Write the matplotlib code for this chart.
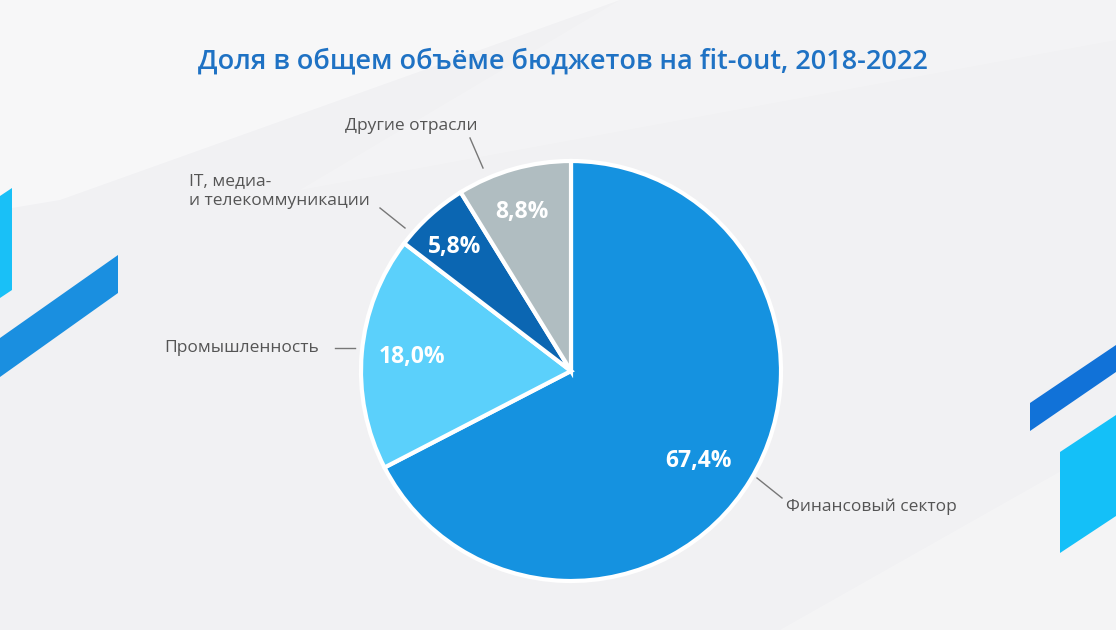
import matplotlib
matplotlib.use("Agg")
import matplotlib.pyplot as plt
from matplotlib.patches import Polygon

# ---- data ----
categories = ["Финансовый сектор", "Промышленность", "IT, медиа-\nи телекоммуникации", "Другие отрасли"]
values = [67.4, 18.0, 5.8, 8.8]
pct_labels = ["67,4%", "18,0%", "5,8%", "8,8%"]
colors = ["#1592e0", "#5bd0fb", "#0b66b2", "#b0bdc1"]
title = "Доля в общем объёме бюджетов на fit-out, 2018-2022"

W, H = 1116, 630
fig = plt.figure(figsize=(W / 100, H / 100), dpi=100)
fig.patch.set_facecolor("#f1f1f3")
ax = fig.add_axes([0, 0, 1, 1])
ax.set_facecolor("#f1f1f3")

def P(x, y):
    return (x, H - y)

# soft background light bands
for pts, c, a in [
    ([(0, 0), (620, 0), (60, 200), (0, 210)], "#f9f9fa", 0.8),
    ([(620, 0), (1116, 0), (1116, 40), (300, 190)], "#f5f5f6", 0.7),
    ([(780, 630), (1116, 440), (1116, 630)], "#f6f6f7", 0.7),
]:
    ax.add_patch(Polygon([P(*p) for p in pts], closed=True, fc=c, ec="none", alpha=a, zorder=0))

# decorative shapes
shapes = [
    ([(0, 196), (12, 188), (12, 290), (0, 298)], "#19c0f7"),
    ([(0, 338), (118, 255), (118, 293), (0, 377)], "#1a8fe0"),
    ([(1030, 403), (1116, 345), (1116, 372), (1030, 431)], "#1172d8"),
    ([(1060, 452), (1116, 415), (1116, 516), (1060, 553)], "#14c0f8"),
]
for pts, c in shapes:
    ax.add_patch(Polygon([P(*p) for p in pts], closed=True, fc=c, ec="none", zorder=1))

# pie
cx, cy, r = 571, 371, 210
wedges, _ = ax.pie(values, colors=colors, startangle=90, counterclock=False,
                   center=P(cx, cy), radius=r, frame=True,
                   wedgeprops=dict(edgecolor="white", linewidth=3))
for w in wedges:
    w.set_zorder(3)
ax.set_xlim(0, W)
ax.set_ylim(0, H)
ax.set_aspect("equal")
ax.axis("off")

# percent labels
pct_pos = [(699, 461), (412, 357), (455, 247), (522, 212)]
for (x, y), t in zip(pct_pos, pct_labels):
    ax.text(*P(x, y), t, color="white", fontsize=16.5, fontweight="bold",
            family="Open Sans", ha="center", va="center", zorder=5)

# category labels + leaders
lab_col = "#555555"
line_col = "#777777"
label_specs = [
    (categories[0], (786, 507), "left", [(757, 478), (782, 498)]),
    (categories[1], (164, 348), "left", [(335, 348), (355, 348)]),
    (categories[2], (189, 191), "left", [(380, 208), (405, 228)]),
    (categories[3], (411, 126), "center", [(470, 138), (483, 168)]),
]
for t, (x, y), ha, line in label_specs:
    ax.text(*P(x, y), t, color=lab_col, fontsize=12.5, family="Open Sans",
            ha=ha, va="center", linespacing=1.3, zorder=5)
    (x1, y1), (x2, y2) = line
    ax.plot([x1, x2], [H - y1, H - y2], color=line_col, lw=1, zorder=4)

ax.text(*P(563, 61), title, color="#1f72c4", fontsize=19.5, fontweight="semibold",
        family="Open Sans", ha="center", va="center", zorder=5)

fig.savefig("out.png", dpi=100, facecolor=fig.get_facecolor())
